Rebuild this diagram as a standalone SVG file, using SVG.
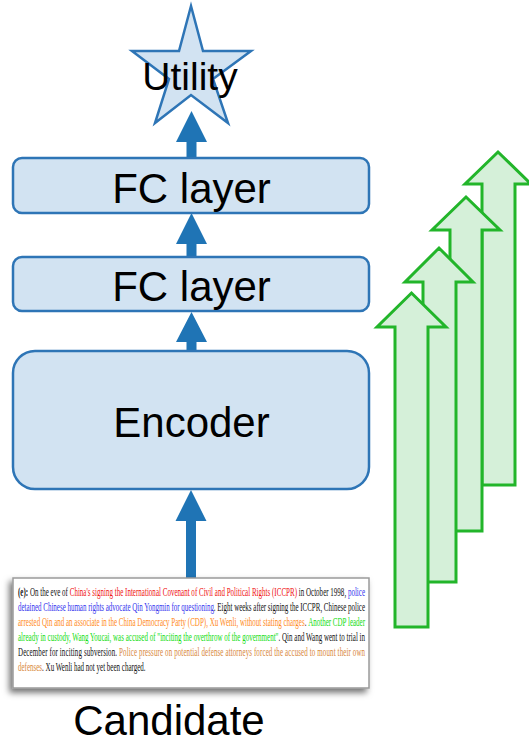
<svg xmlns="http://www.w3.org/2000/svg" width="529" height="744" viewBox="0 0 529 744">
<defs>
<style>
.box{fill:#d2e3f2;stroke:#2e75b6;stroke-width:2.5}
.lbl{font-family:"Liberation Sans",Arial,sans-serif;fill:#000;text-anchor:middle}
.conn{fill:#1f74b5;stroke:none}
.garrow{fill:#d5f0d9;stroke:#22b52a;stroke-width:3;stroke-linejoin:miter}
.para{font-family:"Liberation Serif","Times New Roman",serif;font-size:12px;fill:#111}
.r{fill:#f01010}.b{fill:#3333ee}.o{fill:#ff8a1a}.g{fill:#11dd11}.t{fill:#d8873a}
</style>
<filter id="sh" x="-10%" y="-10%" width="120%" height="130%">
<feDropShadow dx="-3" dy="4" stdDeviation="3" flood-color="#000" flood-opacity="0.55"/>
</filter>
</defs>
<rect width="529" height="744" fill="#fff"/>

<g id="connectors">
<path class="conn" d="M186.5,158 V142 H176 L191.5,111 L207,142 H196.5 V158 Z"/>
<path class="conn" d="M186.5,257 V244 H176 L191.5,213 L207,244 H196.5 V257 Z"/>
<path class="conn" d="M186.5,351 V342 H176 L191.5,312 L207,342 H196.5 V351 Z"/>
<path class="conn" d="M186,579 V521 H175.5 L191,490 L206.5,521 H196 V579 Z"/>
</g>

<g id="utility">
<polygon points="191,6 203,51 251,51 213,79 228,123 191,95 155,123 169,79 132,51 179,51" fill="#d2e3f2" stroke="#2e75b6" stroke-width="2.5" stroke-linejoin="miter"/>
<text class="lbl" x="190" y="90" font-size="39">Utility</text>
</g>

<g id="fc2">
<rect class="box" x="13" y="158" width="356" height="55" rx="9"/>
<text class="lbl" x="191.5" y="203" font-size="42">FC layer</text>
</g>

<g id="fc1">
<rect class="box" x="13" y="257" width="356" height="54" rx="9"/>
<text class="lbl" x="191.5" y="301" font-size="42">FC layer</text>
</g>

<g id="encoder">
<rect class="box" x="13" y="351" width="356" height="138" rx="22"/>
<text class="lbl" x="191.5" y="437" font-size="42">Encoder</text>
</g>

<g id="candidate">
<rect x="13" y="578" width="356" height="110" fill="#fff" stroke="#9a9a9a" stroke-width="1.5" filter="url(#sh)"/>
<text class="para" transform="translate(18,596) scale(0.5833,1)" textLength="595" lengthAdjust="spacing"><tspan font-weight="bold">(e):</tspan> On the eve of <tspan class="r">China's signing the International Covenant of Civil and Political Rights (ICCPR)</tspan> in October 1998, <tspan class="b">police</tspan></text>
<text class="para" transform="translate(18,611) scale(0.5833,1)" textLength="595" lengthAdjust="spacing"><tspan class="b">detained Chinese human rights advocate Qin Yongmin for questioning</tspan>. Eight weeks after signing the ICCPR, Chinese police</text>
<text class="para" transform="translate(18,626) scale(0.5833,1)" textLength="595" lengthAdjust="spacing"><tspan class="o">arrested Qin and an associate in the China Democracy Party (CDP), Xu Wenli, without stating charges</tspan>. <tspan class="g">Another CDP leader</tspan></text>
<text class="para" transform="translate(18,641) scale(0.5833,1)" textLength="595" lengthAdjust="spacing"><tspan class="g">already in custody, Wang Youcai, was accused of "inciting the overthrow of the government"</tspan>. Qin and Wang went to trial in</text>
<text class="para" transform="translate(18,656) scale(0.5833,1)" textLength="595" lengthAdjust="spacing">December for inciting subversion. <tspan class="t">Police pressure on potential defense attorneys forced the accused to mount their own</tspan></text>
<text class="para" transform="translate(18,671) scale(0.5833,1)"><tspan class="t">defenses</tspan>. Xu Wenli had not yet been charged.</text>
<text class="lbl" x="169" y="735" font-size="42">Candidate</text>
</g>

<g id="green-arrows">
<path class="garrow" d="M482,485 V184 H465 L498,152 L531,184 H515 V485 Z"/>
<path class="garrow" d="M450,531 V230 H432 L466,197 L500,230 H482 V531 Z"/>
<path class="garrow" d="M423,582 V282 H405 L439,248 L473,282 H456 V582 Z"/>
<path class="garrow" d="M395,627 V327 H377 L411.5,293 L446,327 H428 V627 Z"/>
</g>
</svg>
